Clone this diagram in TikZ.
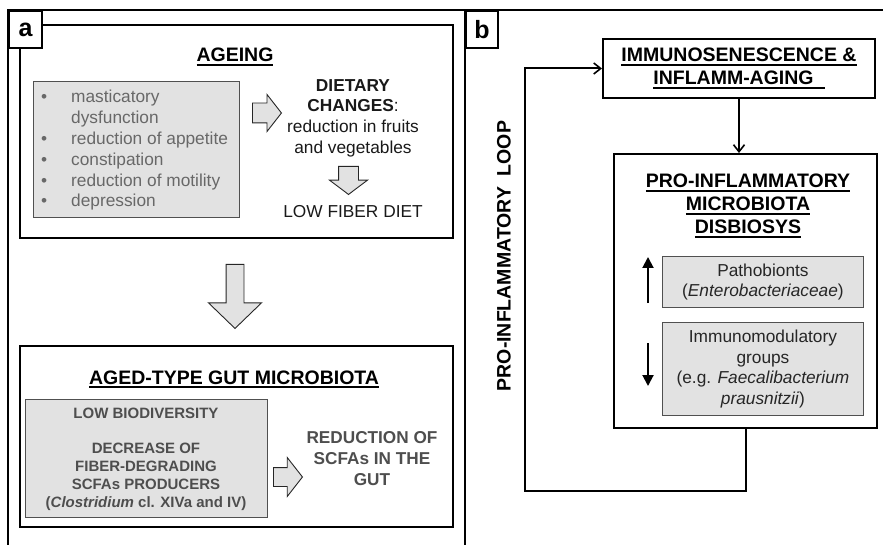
\documentclass[tikz,border=0pt]{standalone}
\usepackage{fontspec}
\setmainfont{Liberation Sans}
\usetikzlibrary{shapes.arrows,arrows.meta}
\definecolor{boxgray}{HTML}{E2E2E2}
\definecolor{edgegray}{HTML}{505050}
\definecolor{softtext}{HTML}{686868}
\definecolor{darktext}{HTML}{4E4E4E}
% thick underline used for the headings
\newcommand\hul[1]{\setbox0=\hbox{#1}\rlap{\rule[-4pt]{\wd0}{1.8pt}}\box0}
\newcommand\fs[2]{\fontsize{#1}{#2}\selectfont}
% invisible strut that sets the shaft width of a block arrow
\newcommand\shaft[1]{\rule{0pt}{#1}}
\begin{document}
\begin{tikzpicture}[x=1pt,y=-1pt,
  frame/.style={line width=2pt},
  panel/.style={draw, line width=2pt, fill=white, anchor=north west, inner sep=0},
  shade/.style={draw=edgegray, line width=0.9pt, fill=boxgray, anchor=north west, inner sep=0},
  tag/.style={draw, line width=2pt, fill=white, anchor=north west, inner sep=0, font=\fs{25}{30}\bfseries},
  barrow/.style={single arrow, draw=black!85, line width=0.9pt, fill=boxgray, inner sep=0, anchor=tail},
  heading/.style={font=\fs{19.5}{23}\bfseries, align=center, inner sep=0},
  body/.style={font=\fs{17.3}{20.6}, align=center, inner sep=0},
  link/.style={line width=2pt, -{Straight Barb[length=7pt,width=11pt,line width=1.6pt]}},
  mark up/.style={line width=2pt, -{Triangle[length=11pt,width=11pt]}},
]
\useasboundingbox (0,0) rectangle (883,545);

% panel frames
\draw[frame] (883,10) -- (8,10) -- (8,545);
\draw[frame] (465,10) -- (465,545);

% ---------- panel a ----------
\node[panel, minimum width=433, minimum height=213] (ageing) at (19,24) {};
\node[tag, minimum width=33, minimum height=37] (taga) at (8,10) {a};
\node[heading, anchor=base] (ageingtitle) at (235,62) {\hul{AGEING}};

\node[shade, minimum width=206, minimum height=136] (signs) at (33,81) {};
\node[anchor=base west, inner sep=0, text=softtext, font=\fs{17.3}{20.8}] (signlist) at (41,103)
  {\begin{tabular}[t]{@{}p{30pt}@{}l@{}}
   \textbullet & masticatory\\
               & dysfunction\\
   \textbullet & reduction of appetite\\
   \textbullet & constipation\\
   \textbullet & reduction of motility\\
   \textbullet & depression
   \end{tabular}};

\node[barrow, minimum height=29, single arrow head extend=8.5,
      single arrow tip angle=104] (arrA) at (252,113) {\shaft{19pt}};
\node[body, text=black!90] (diet) at (353,118)
  {\textbf{DIETARY}\\\textbf{CHANGES}:\\reduction in fruits\\and vegetables};
\node[barrow, rotate=-90, minimum height=28, single arrow head extend=9,
      single arrow tip angle=106] (arrB) at (348.5,166) {\shaft{19pt}};
\node[body, anchor=base, text=black!90] (lowfiber) at (353,218) {LOW FIBER DIET};

\node[barrow, rotate=-90, minimum height=64, single arrow head extend=17.5,
      single arrow tip angle=92] (arrC) at (235,264) {\shaft{17pt}};

\node[panel, minimum width=433, minimum height=181] (aged) at (19,345) {};
\node[heading, anchor=base] (agedtitle) at (234,384) {\hul{AGED-TYPE GUT MICROBIOTA}};
\node[shade, minimum width=242, minimum height=118] (traits) at (25,399) {};
\node[font=\fs{15}{18}\bfseries, text=darktext, align=center, inner sep=0] (traitlist) at (146,459)
  {LOW BIODIVERSITY\\[17pt]DECREASE OF\\FIBER-DEGRADING\\SCFAs PRODUCERS\\(\textit{Clostridium} cl. XIVa and IV)};
\node[barrow, minimum height=29, single arrow head extend=10,
      single arrow tip angle=104] (arrD) at (273,477) {\shaft{18pt}};
\node[font=\fs{17.2}{21}\bfseries, text=darktext, align=center, inner sep=0] (scfa) at (372,459)
  {REDUCTION OF\\SCFAs IN THE\\GUT};

% ---------- panel b ----------
\node[tag, minimum width=32, minimum height=37] (tagb) at (465,10) {b};
\node[panel, heading, minimum width=272, minimum height=59] (immuno) at (602,38)
  {\hul{IMMUNOSENESCENCE \&}\\\hul{INFLAMM-AGING\hspace{11pt}}};

\node[panel, minimum width=263, minimum height=274] (pro) at (613,153) {};
\node[heading] (protitle) at (748,206)
  {\hul{PRO-INFLAMMATORY}\\\hul{MICROBIOTA}\\\hul{DISBIOSYS}};

\node[shade, body, text=black!85, minimum width=201, minimum height=51] (patho) at (662,256)
  {Pathobionts\\(\textit{Enterobacteriaceae})};
\node[shade, body, text=black!85, minimum width=201, minimum height=93] (immod) at (662,322)
  {Immunomodulatory\\groups\\(e.g. \textit{Faecalibacterium}\\\textit{prausnitzii})};

\coordinate (upbase) at (648,303);
\coordinate (uptip) at (648,257);
\coordinate (dnbase) at (648,343);
\coordinate (dntip) at (648,386);
\draw[mark up] (upbase) -- (uptip);
\draw[mark up] (dnbase) -- (dntip);

\draw[link] (immuno.south) -- (immuno.south |- pro.north);
\coordinate (loopcorner) at (525,491);
\draw[link] (pro.south) |- (loopcorner) |- (immuno.west);

\node[heading, rotate=90] (looplabel) at (504,256) {PRO-INFLAMMATORY\hspace{0.55em}LOOP};
\end{tikzpicture}
\end{document}
